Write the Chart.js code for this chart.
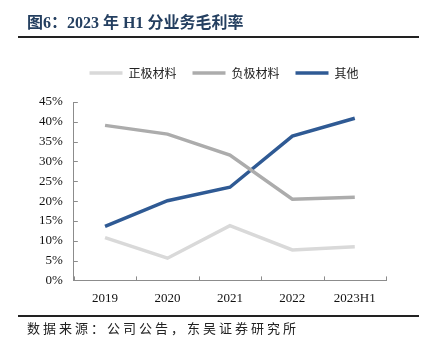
<!DOCTYPE html>
<html>
<head>
<meta charset="utf-8">
<script src="https://cdn.jsdelivr.net/npm/chart.js@4/dist/chart.umd.min.js"></script>
<style>
    body {margin: 0; background: #fff;}
    #wrap {position: relative; width: 430px; height: 354px; overflow: hidden;}
    #chart-canvas {position: absolute; left: 0; top: 0;}
    .title {position: absolute; left: 27px; top: 9px; font: bold 16px "Liberation Serif", "Noto Sans CJK SC"; color: #243f60; white-space: nowrap;}
    .rule {position: absolute; left: 18px; width: 401px; height: 2px; background: #222;}
    .source {position: absolute; left: 27px; top: 318px; font: 13px "Noto Sans CJK SC"; color: #222; letter-spacing: 3px; white-space: nowrap;}
</style>
</head>
<body>
<div id="wrap">
    <canvas id="chart-canvas" width="430" height="354"></canvas>
    <div class="title">图6：2023 年 H1 分业务毛利率</div>
    <div class="rule" style="top:36px"></div>
    <div class="rule" style="top:315px"></div>
    <div class="source">数据来源：公司公告，东吴证券研究所</div>
</div>
<script>
const years = ["2019", "2020", "2021", "2022", "2023H1"]
const seriesNames = ["正极材料", "负极材料", "其他"]
const cathode = [10.8, 5.6, 13.8, 7.7, 8.5]
const anode = [39.1, 36.9, 31.6, 20.5, 21.0]
const other = [13.6, 20.1, 23.5, 36.4, 40.9]
const yTicks = [0, 5, 10, 15, 20, 25, 30, 35, 40, 45]

// little ticks pointing into the plot, like the excel original
const innerTicks = {
    id: "innerTicks",
    afterDraw(chart) {
        let ctx = chart.ctx
        let xs = chart.scales.x
        let ys = chart.scales.y
        ctx.save()
        ctx.strokeStyle = "#8c8c8c"
        ctx.lineWidth = 1
        ctx.beginPath()
        for (let i = 0; i <= years.length; i++) {
            let px = Math.round(xs.left + (xs.right - xs.left) * i / years.length) + 0.5
            ctx.moveTo(px, ys.bottom)
            ctx.lineTo(px, ys.bottom - 4)
        }
        yTicks.forEach(v => {
            let py = Math.round(ys.getPixelForValue(v)) + 0.5
            ctx.moveTo(xs.left, py)
            ctx.lineTo(xs.left + 4, py)
        })
        ctx.stroke()
        ctx.restore()
    }
}

// extra room under the legend, and nudge it right a bit
const legendGap = {
    id: "legendGap",
    beforeInit(chart) {
        let origFit = chart.legend.fit
        chart.legend.fit = function () {
            origFit.bind(chart.legend)()
            this.height += 13
        }
    },
    afterLayout(chart) {
        chart.legend.left += 17
        chart.legend.right += 17
    }
}

function makeDataset(label, data, color) {
    return {
        label: label,
        data: data,
        borderColor: color,
        backgroundColor: color,
        borderWidth: 3.5,
        pointRadius: 0,
        tension: 0,
        fill: false
    }
}

const chart = new Chart(document.getElementById("chart-canvas"), {
    type: "line",
    data: {
        labels: years,
        datasets: [
            makeDataset(seriesNames[0], cathode, "#d9d9d9"),
            makeDataset(seriesNames[1], anode, "#acacac"),
            makeDataset(seriesNames[2], other, "#2f5a94")
        ]
    },
    options: {
        responsive: false,
        animation: false,
        layout: {padding: {top: 51, left: 28, right: 44, bottom: 38}},
        plugins: {
            tooltip: {enabled: false},
            legend: {
                position: "top",
                labels: {
                    usePointStyle: true,
                    pointStyle: "line",
                    pointStyleWidth: 33,
                    boxHeight: 12,
                    padding: 16,
                    color: "#222",
                    font: {family: "Noto Sans CJK SC", size: 12}
                }
            }
        },
        scales: {
            x: {
                offset: true,
                grid: {display: false, drawTicks: false},
                border: {color: "#8c8c8c"},
                ticks: {color: "#111", padding: 10, font: {family: "Liberation Serif", size: 13}}
            },
            y: {
                min: 0,
                max: 45,
                grid: {display: false, drawTicks: false},
                border: {color: "#8c8c8c"},
                afterBuildTicks: (axis) => {axis.ticks = yTicks.map(v => ({value: v}))},
                ticks: {
                    color: "#111",
                    padding: 11,
                    font: {family: "Liberation Serif", size: 13},
                    callback: (v) => v + "%"
                }
            }
        }
    },
    plugins: [innerTicks, legendGap]
})
</script>
</body>
</html>
